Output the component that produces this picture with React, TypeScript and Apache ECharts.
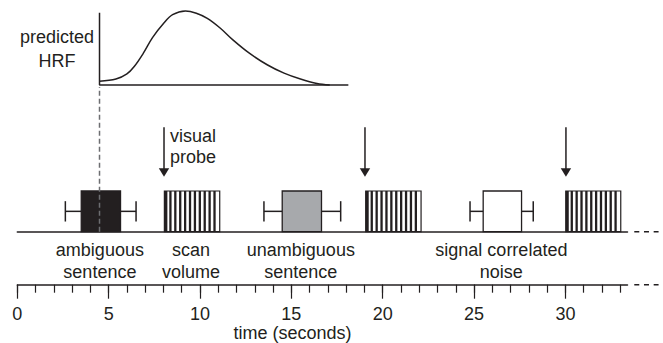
import React, { useEffect, useRef } from "react";
import * as echarts from "echarts";

// ---------- data ----------
const tickSeconds = [0, 1, 2, 3, 4, 5, 6, 7, 8, 9, 10, 11, 12, 13, 14, 15, 16, 17, 18, 19, 20, 21, 22, 23, 24, 25, 26, 27, 28, 29, 30, 31, 32, 33];
const tickLabelSeconds = [0, 5, 10, 15, 20, 25, 30];
const axisEndSeconds = 33.4;
const continuationSeconds = [33.77, 35.1];

const sentenceLabels = ["ambiguous\nsentence", "unambiguous\nsentence", "signal correlated\nnoise"];
const sentenceOnsets = [3.5, 14.5, 25.5];
const sentenceOffsets = [5.65, 16.65, 27.6];
const jitterEarliest = [2.63, 13.5, 24.78];
const jitterLatest = [6.5, 17.7, 28.24];

const scanLabels = ["scan\nvolume", "", ""];
const scanOnsets = [8.05, 19.07, 30.02];
const scanOffsets = [11.08, 22.1, 33.03];

const probeSeconds = [8.03, 19.03, 30.03];
const probeLabels = ["visual\nprobe", "", ""];

const hrfOnset = 4.5;
const hrfSeconds = [0, 0.9, 1.5, 1.9, 2.4, 2.9, 3.5, 4.0, 4.7, 5.3, 5.9, 6.6, 7.3, 8.2, 9.2, 10.1, 11.0, 11.9, 12.6];
const hrfValues = [0.05, 0.08, 0.15, 0.25, 0.43, 0.64, 0.83, 0.95, 1.0, 0.97, 0.9, 0.77, 0.61, 0.43, 0.27, 0.16, 0.08, 0.02, 0.0];
const hrfAxisEnd = 18.12;
const hrfAxisTop = 0.977;

// ---------- styles / layout ----------
const INK = "#231f20";
const DASH_GREY = "#6d6e71";
const sentenceFills = ["#231f20", "#a7a9ac", "#ffffff"];
const FONT = "'Liberation Sans', Arial, Helvetica, sans-serif";
const X0 = 17.3;
const PX_PER_S = 18.27;
const GRID_W = axisEndSeconds * PX_PER_S;
const HRF_TOP = 11;
const HRF_H = 74;
const EV_TOP = 191;
const EV_H = 40.7;
const AX_TOP = 270;
const AX_H = 14.7;

const textStyle = (text: string, align: string, lineHeight: number) => ({
  text,
  fill: INK,
  fontSize: 18,
  fontFamily: FONT,
  align,
  verticalAlign: "top",
  lineHeight,
});

function buildOption() {
  const hidden = { show: false };
  const grid = (top: number, height: number) => ({
    left: X0,
    width: GRID_W,
    top,
    height,
    containLabel: false,
    outerBoundsMode: "none",
  });

  const dashSeries = (xAxisIndex: number, yAxisIndex: number) => ({
    type: "custom",
    xAxisIndex,
    yAxisIndex,
    silent: true,
    data: [[continuationSeconds[0], continuationSeconds[1]]],
    renderItem: (_p: any, api: any) => {
      const a = api.coord([api.value(0), 0]);
      const b = api.coord([api.value(1), 0]);
      return {
        type: "line",
        shape: { x1: a[0], y1: a[1], x2: b[0], y2: b[1] },
        style: { stroke: INK, lineWidth: 1.5, lineDash: [5, 4.7] },
      };
    },
  });

  return {
    animation: false,
    backgroundColor: "#ffffff",
    grid: [grid(AX_TOP, AX_H), grid(EV_TOP, EV_H), grid(HRF_TOP, HRF_H)],
    xAxis: [
      {
        type: "value",
        gridIndex: 0,
        position: "bottom",
        min: 0,
        max: axisEndSeconds,
        splitLine: hidden,
        axisLine: { show: true, onZero: false, lineStyle: { color: INK, width: 1.5 } },
        axisTick: { show: true, customValues: tickLabelSeconds, length: 14, lineStyle: { color: INK, width: 1.2 } },
        axisLabel: { show: true, customValues: tickLabelSeconds, margin: 20, color: INK, fontSize: 18, fontFamily: FONT },
        name: "time (seconds)",
        nameLocation: "middle",
        nameGap: 36,
        nameTextStyle: { color: INK, fontSize: 18, fontFamily: FONT, padding: [0, 60, 0, 0] },
      },
      {
        type: "value",
        gridIndex: 0,
        position: "bottom",
        min: 0,
        max: axisEndSeconds,
        splitLine: hidden,
        axisLine: { show: false, onZero: false },
        axisTick: { show: true, customValues: tickSeconds, length: 8, lineStyle: { color: INK, width: 1.2 } },
        axisLabel: hidden,
      },
      {
        type: "value",
        gridIndex: 1,
        position: "bottom",
        min: 0,
        max: axisEndSeconds,
        splitLine: hidden,
        axisLine: { show: true, onZero: false, lineStyle: { color: INK, width: 1.5 } },
        axisTick: hidden,
        axisLabel: hidden,
      },
      {
        type: "value",
        gridIndex: 2,
        min: 0,
        max: axisEndSeconds,
        show: false,
      },
    ],
    yAxis: [
      { type: "value", gridIndex: 0, min: 0, max: 1, show: false },
      { type: "value", gridIndex: 1, min: 0, max: 1, show: false },
      { type: "value", gridIndex: 2, min: 0, max: 1, show: false },
    ],
    graphic: [
      {
        type: "text",
        x: 57,
        y: 25.5,
        style: textStyle("predicted\nHRF", "center", 23.4),
      },
    ],
    series: [
      // sentence events with jitter whiskers
      {
        type: "custom",
        xAxisIndex: 2,
        yAxisIndex: 1,
        silent: true,
        data: sentenceOnsets.map((s, i) => [s, sentenceOffsets[i], jitterEarliest[i], jitterLatest[i]]),
        renderItem: (params: any, api: any) => {
          const i = params.dataIndex;
          const lb = api.coord([api.value(0), 0]);
          const rt = api.coord([api.value(1), 1]);
          const wl = api.coord([api.value(2), 0.5]);
          const wr = api.coord([api.value(3), 0.5]);
          const x0 = lb[0];
          const yb = lb[1];
          const x1 = rt[0];
          const yt = rt[1];
          const ym = wl[1];
          const cap = (yb - yt) * 0.25;
          const ls = { stroke: INK, lineWidth: 1.5 };
          return {
            type: "group",
            children: [
              { type: "line", shape: { x1: wl[0], y1: ym, x2: x0, y2: ym }, style: ls },
              { type: "line", shape: { x1: wl[0], y1: ym - cap, x2: wl[0], y2: ym + cap }, style: ls },
              { type: "line", shape: { x1: x1, y1: ym, x2: wr[0], y2: ym }, style: ls },
              { type: "line", shape: { x1: wr[0], y1: ym - cap, x2: wr[0], y2: ym + cap }, style: ls },
              {
                type: "rect",
                shape: { x: x0, y: yt, width: x1 - x0, height: yb - yt },
                style: { fill: sentenceFills[i], stroke: INK, lineWidth: 1.3 },
              },
              {
                type: "text",
                x: (x0 + x1) / 2 - 1,
                y: yb + 7.4,
                style: textStyle(sentenceLabels[i], "center", 22),
              },
            ],
          };
        },
      },
      // scan volumes (striped)
      {
        type: "custom",
        xAxisIndex: 2,
        yAxisIndex: 1,
        silent: true,
        data: scanOnsets.map((s, i) => [s, scanOffsets[i]]),
        renderItem: (params: any, api: any) => {
          const i = params.dataIndex;
          const lb = api.coord([api.value(0), 0]);
          const rt = api.coord([api.value(1), 1]);
          const x0 = lb[0];
          const yb = lb[1];
          const x1 = rt[0];
          const yt = rt[1];
          const w = x1 - x0;
          const period = w / 11.3;
          const children: any[] = [
            {
              type: "rect",
              shape: { x: x0, y: yt, width: w, height: yb - yt },
              style: { fill: "#ffffff", stroke: INK, lineWidth: 1.2 },
            },
          ];
          for (let k = 0; k < 11; k++) {
            children.push({
              type: "rect",
              shape: { x: x0 + k * period, y: yt, width: k === 0 ? 3 : 2.3, height: yb - yt },
              style: { fill: INK },
            });
          }
          if (scanLabels[i]) {
            children.push({
              type: "text",
              x: (x0 + x1) / 2 - 1,
              y: yb + 7.4,
              style: textStyle(scanLabels[i], "center", 22),
            });
          }
          return { type: "group", children };
        },
      },
      // visual probe arrows
      {
        type: "custom",
        xAxisIndex: 2,
        yAxisIndex: 1,
        silent: true,
        data: probeSeconds.map((t) => [t, 1]),
        renderItem: (params: any, api: any) => {
          const i = params.dataIndex;
          const p = api.coord([api.value(0), api.value(1)]);
          const x = p[0];
          const tip = p[1] - 14.3;
          const children: any[] = [
            { type: "line", shape: { x1: x, y1: tip - 49.5, x2: x, y2: tip - 6 }, style: { stroke: INK, lineWidth: 1.5 } },
            {
              type: "polygon",
              shape: { points: [[x - 5.2, tip - 8.4], [x + 5.2, tip - 8.4], [x, tip]] },
              style: { fill: INK },
            },
          ];
          if (probeLabels[i]) {
            children.push({
              type: "text",
              x: x + 6,
              y: tip - 51.5,
              style: textStyle(probeLabels[i], "left", 21),
            });
          }
          return { type: "group", children };
        },
      },
      // dashed onset line linking HRF to the sentence
      {
        type: "custom",
        xAxisIndex: 2,
        yAxisIndex: 1,
        silent: true,
        z: 5,
        data: [[hrfOnset, 0]],
        renderItem: (_p: any, api: any) => {
          const p = api.coord([api.value(0), 0]);
          return {
            type: "line",
            shape: { x1: p[0], y1: p[1], x2: p[0], y2: HRF_TOP + HRF_H + 2 },
            style: { stroke: DASH_GREY, lineWidth: 1.5, lineDash: [5, 3] },
          };
        },
      },
      dashSeries(2, 1),
      dashSeries(0, 0),
      // HRF axes
      {
        type: "line",
        xAxisIndex: 3,
        yAxisIndex: 2,
        silent: true,
        clip: false,
        showSymbol: false,
        symbol: "none",
        data: [
          [hrfOnset, hrfAxisTop],
          [hrfOnset, 0],
          [hrfAxisEnd, 0],
        ],
        lineStyle: { color: INK, width: 1.5 },
      },
      // predicted HRF curve
      {
        type: "line",
        xAxisIndex: 3,
        yAxisIndex: 2,
        silent: true,
        clip: false,
        showSymbol: false,
        symbol: "none",
        smooth: 0.35,
        data: hrfSeconds.map((t, i) => [hrfOnset + t, hrfValues[i]]),
        lineStyle: { color: INK, width: 1.5 },
      },
    ],
  };
}

export default function App() {
  const ref = useRef<HTMLDivElement>(null);
  useEffect(() => {
    if (!ref.current) return;
    const chart = echarts.init(ref.current, null, { renderer: "svg" });
    chart.setOption(buildOption() as any);
    return () => chart.dispose();
  }, []);
  return (
    <div
      ref={ref}
      style={{ position: "absolute", left: 0, top: 0, width: 663, height: 343, background: "#ffffff" }}
    />
  );
}
